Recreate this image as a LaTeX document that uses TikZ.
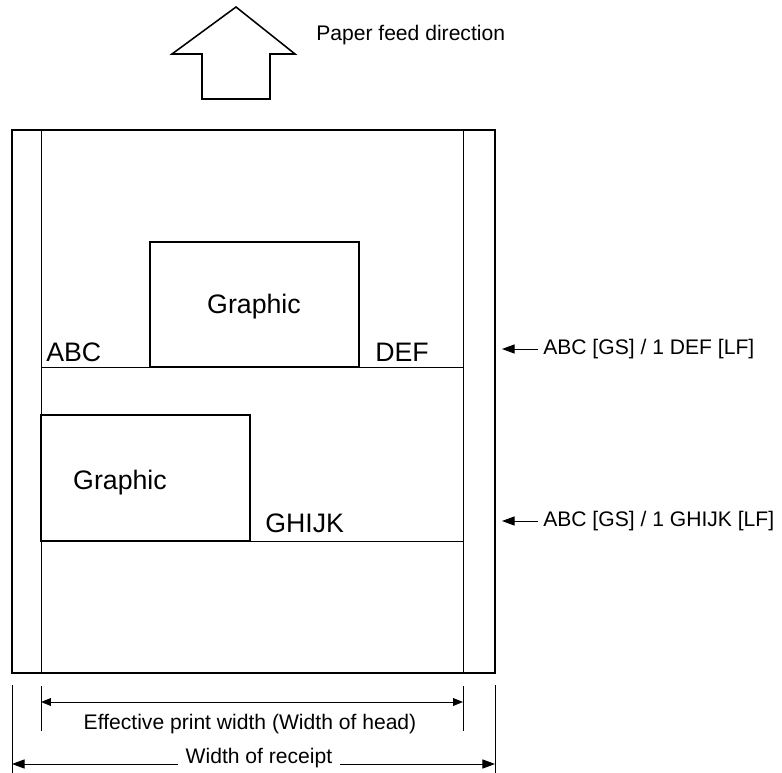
\documentclass[tikz,border=0pt]{standalone}
\usepackage{fontspec}
\setmainfont{Liberation Sans}
\usetikzlibrary{arrows.meta}
\begin{document}
\begin{tikzpicture}[x=0.025cm, y=-0.025cm,
			frame/.style={draw, line width=1.3pt},
			box/.style={draw, line width=1pt},
			thin line/.style={draw, line width=0.7pt},
			dim/.style={draw, line width=0.7pt, {Triangle[length=7pt,width=5.5pt]}-{Triangle[length=7pt,width=5.5pt]}},
			pointer/.style={draw, line width=0.7pt, {Triangle[length=9pt,width=6.5pt]}-},
			big label/.style={font=\fontsize{19}{22}\selectfont, inner sep=0pt},
			mark label/.style={font=\fontsize{19}{22}\selectfont, inner sep=0pt, anchor=base west},
			small label/.style={font=\fontsize{15}{18}\selectfont, inner sep=0pt}
			]
			\useasboundingbox (0,0) rectangle (782,773);
			
			\draw[line width=1.1pt, line join=miter] (236,7) -- (295,54) -- (270,54) -- (270,99)
				-- (202,99) -- (202,54) -- (172,54) -- cycle;
			\node[small label, anchor=west] (feed) at (316,35) {Paper feed direction};
			
			\coordinate (rtl) at (12,130);
			\coordinate (rbr) at (495,673);
			\draw[frame] (rtl) rectangle (rbr);
			
			\coordinate (hl) at (41,130);
			\coordinate (hlb) at (41,673);
			\coordinate (hr) at (463,130);
			\coordinate (hrb) at (463,673);
			\draw[thin line] (hl) -- (hlb);
			\draw[thin line] (hr) -- (hrb);
			
			\coordinate (l1l) at (41,367);
			\coordinate (l1r) at (463,367);
			\coordinate (l2l) at (41,541);
			\coordinate (l2r) at (463,541);
			\draw[thin line] (l1l) -- (l1r);
			\draw[thin line] (l2l) -- (l2r);
			
			\draw[box] (150,242) rectangle (359,367);
			\node[big label] (g1) at (254,306.5) {Graphic};
			\draw[box] (41,415) rectangle (250,541);
			\node[big label] (g2) at (120,483) {Graphic};
			
			\node[mark label] (abc) at (46,362) {ABC};
			\node[mark label] (def) at (375,362) {DEF};
			\node[mark label] (ghijk) at (265,532) {GHIJK};
			
			\coordinate (p1) at (502,349);
			\node[small label, anchor=west] (c1) at (543,349) {ABC [GS] / 1 DEF [LF]};
			\draw[pointer] (p1) -- (538,349);
			\coordinate (p2) at (502,521);
			\node[small label, anchor=west] (c2) at (543,521) {ABC [GS] / 1 GHIJK [LF]};
			\draw[pointer] (p2) -- (538,521);
			
			\coordinate (e1t) at (41,686);
			\coordinate (e1b) at (41,731);
			\coordinate (e2t) at (463,686);
			\coordinate (e2b) at (463,731);
			\draw[thin line] (e1t) -- (e1b);
			\draw[thin line] (e2t) -- (e2b);
			\coordinate (a1) at (41,702);
			\coordinate (a2) at (463,702);
			\draw[dim] (a1) -- (a2);
			\node[small label] (head) at (250,724) {Effective print width (Width of head)};
			
			\coordinate (w1t) at (12,685);
			\coordinate (w1b) at (12,773);
			\coordinate (w2t) at (495,685);
			\coordinate (w2b) at (495,773);
			\draw[thin line] (w1t) -- (w1b);
			\draw[thin line] (w2t) -- (w2b);
			\coordinate (b1) at (12,764);
			\coordinate (b2) at (495,764);
			\node[small label, inner xsep=5pt] (receipt) at (259,758) {Width of receipt};
			\draw[pointer] (b1) -- (b1 -| receipt.west);
			\draw[pointer] (b2) -- (b2 -| receipt.east);
			
		\end{tikzpicture}
\end{document}
